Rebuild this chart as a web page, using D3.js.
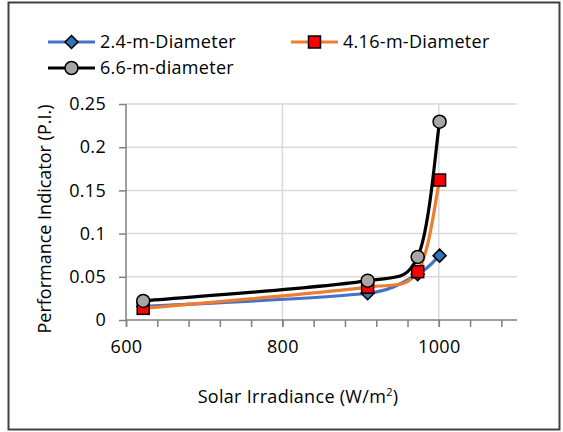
<!DOCTYPE html>
<html><head><meta charset="utf-8">
<script src="https://cdn.jsdelivr.net/npm/d3@7"></script>
<style>body{margin:0;background:#fff}svg{display:block}text{font-family:"Open Sans",Lato,sans-serif;fill:#000}</style>
</head><body><svg id="c" width="563" height="432"></svg>
<script>
const irradiance2_4 = [622, 909, 973, 1001];
const pi2_4 = [0.0155, 0.031, 0.053, 0.0745];
const irradiance4_16 = [622, 909, 973, 1001];
const pi4_16 = [0.0135, 0.038, 0.056, 0.162];
const irradiance6_6 = [622, 909, 973, 1001];
const pi6_6 = [0.022, 0.0455, 0.073, 0.2295];
const seriesNames = ["2.4-m-Diameter", "4.16-m-Diameter", "6.6-m-diameter"];
const xTicks = [600, 800, 1000];
const yTicks = [0, 0.05, 0.1, 0.15, 0.2, 0.25];

const FS = 18, LS = 0.3;
const svg = d3.select("#c");
svg.append("rect").attr("x",8.5).attr("y",2.5).attr("width",551).attr("height",427)
  .attr("fill","#fff").attr("stroke","#404040").attr("stroke-width",2);

const x = d3.scaleLinear().domain([600,1100]).range([126,517]);
const y = d3.scaleLinear().domain([0,0.25]).range([320,104]);

svg.append("g").selectAll("line").data(yTicks.slice(1)).join("line")
  .attr("x1",126).attr("x2",517).attr("y1",d=>y(d)).attr("y2",d=>y(d))
  .attr("stroke","#d9d9d9").attr("stroke-width",1.5);
svg.append("g").selectAll("line").data(xTicks.slice(1)).join("line")
  .attr("x1",d=>x(d)).attr("x2",d=>x(d)).attr("y1",104).attr("y2",320)
  .attr("stroke","#d9d9d9").attr("stroke-width",1.5);

const xMinor = d3.range(600, 1101, 40);
const gx = svg.append("g").attr("transform","translate(0,320)")
  .call(d3.axisBottom(x).tickValues(xMinor).tickSize(7).tickFormat(""));
gx.select(".domain").attr("stroke","#808080").attr("stroke-width",1.5).attr("d","M126,0H517");
gx.selectAll(".tick line").attr("stroke","#808080").attr("stroke-width",1.5);
const gx2 = svg.append("g").attr("transform","translate(0,320)")
  .call(d3.axisBottom(x).tickValues(xTicks).tickSize(7).tickPadding(13).tickFormat(d3.format("d")));
gx2.select(".domain").remove();
gx2.selectAll(".tick line").attr("stroke","#808080").attr("stroke-width",1.5);
gx2.selectAll("text").attr("font-size",FS).attr("font-family","Open Sans").attr("letter-spacing",LS);

const gy = svg.append("g").attr("transform","translate(126,0)")
  .call(d3.axisLeft(y).tickValues(yTicks).tickSize(7).tickPadding(13).tickFormat(d=>String(d)));
gy.select(".domain").attr("stroke","#808080").attr("stroke-width",1.5).attr("d","M0,104V320");
gy.selectAll(".tick line").attr("stroke","#808080").attr("stroke-width",1.5);
gy.selectAll("text").attr("font-size",FS).attr("font-family","Open Sans").attr("letter-spacing",LS);

svg.append("text").attr("x",298).attr("y",403).attr("text-anchor","middle")
  .attr("font-size",FS).attr("letter-spacing",LS)
  .html('Solar Irradiance (W/m<tspan font-size="11" dy="-7">2</tspan><tspan dy="7">)</tspan>');
svg.append("text").attr("transform","translate(51,219) rotate(-90)").attr("text-anchor","middle")
  .attr("font-size",FS).text("Performance Indicator (P.I.)");

const series = [
  {name:seriesNames[0], xs:irradiance2_4, ys:pi2_4, color:"#4472c4", marker:"diamond", fill:"#2e75b6"},
  {name:seriesNames[1], xs:irradiance4_16, ys:pi4_16, color:"#ed7d31", marker:"square", fill:"#ff0000"},
  {name:seriesNames[2], xs:irradiance6_6, ys:pi6_6, color:"#000000", marker:"circle", fill:"#a6a6a6"}
];

// Excel-like smoothing curve: Bezier with control offsets (P2-P0)/6 clamped to half the segment
function ExcelSmooth(context){ this._context = context; }
ExcelSmooth.prototype = {
  areaStart(){}, areaEnd(){},
  lineStart(){ this._pts = []; },
  point(px, py){ this._pts.push([+px, +py]); },
  lineEnd(){
    const p = this._pts, c = this._context, n = p.length;
    if(!n) return;
    c.moveTo(p[0][0], p[0][1]);
    const dist = (a,b)=>Math.hypot(b[0]-a[0], b[1]-a[1]);
    for(let i=0;i<n-1;i++){
      const P0 = p[Math.max(i-1,0)], P1 = p[i], P2 = p[i+1], P3 = p[Math.min(i+2,n-1)];
      const d12 = dist(P1,P2);
      let d02 = dist(P0,P2), f1 = 1/6;
      if(d02/6 > d12/2 && d02>0) f1 = d12/(2*d02);
      let d13 = dist(P1,P3), f2 = 1/6;
      if(d13/6 > d12/2 && d13>0) f2 = d12/(2*d13);
      const c1 = [P1[0]+(P2[0]-P0[0])*f1, P1[1]+(P2[1]-P0[1])*f1];
      const c2 = [P2[0]-(P3[0]-P1[0])*f2, P2[1]-(P3[1]-P1[1])*f2];
      c.bezierCurveTo(c1[0],c1[1],c2[0],c2[1],P2[0],P2[1]);
    }
  }
};
const excelCurve = ctx => new ExcelSmooth(ctx);
const line = d3.line().x(d=>x(d[0])).y(d=>y(d[1])).curve(excelCurve);

function drawMarker(g, type, cx, cy, fill){
  if(type==="diamond"){
    g.append("path").attr("d",`M${cx},${cy-6.5}L${cx+6.5},${cy}L${cx},${cy+6.5}L${cx-6.5},${cy}Z`)
      .attr("fill",fill).attr("stroke","#000").attr("stroke-width",1.5);
  } else if(type==="square"){
    g.append("rect").attr("x",cx-6).attr("y",cy-6).attr("width",12).attr("height",12)
      .attr("fill",fill).attr("stroke","#000").attr("stroke-width",1.5);
  } else {
    g.append("circle").attr("cx",cx).attr("cy",cy).attr("r",6.5)
      .attr("fill",fill).attr("stroke","#000").attr("stroke-width",1.5);
  }
}

series.forEach(s=>{
  const pts = s.xs.map((v,i)=>[v,s.ys[i]]);
  svg.append("path").datum(pts).attr("d",line).attr("fill","none")
    .attr("stroke",s.color).attr("stroke-width",3.2);
  const g = svg.append("g");
  pts.forEach(p=>drawMarker(g, s.marker, x(p[0]), y(p[1]), s.fill));
});

const legPos = [[48,42],[291,42],[48,68]];
series.forEach((s,i)=>{
  const [lx,ly] = legPos[i];
  svg.append("line").attr("x1",lx).attr("x2",lx+47).attr("y1",ly).attr("y2",ly)
    .attr("stroke",s.color).attr("stroke-width",3.2);
  drawMarker(svg.append("g"), s.marker, lx+23.5, ly, s.fill);
  svg.append("text").attr("x",lx+52).attr("y",ly+6).attr("font-size",FS).attr("letter-spacing",LS).text(s.name);
});
</script></body></html>
